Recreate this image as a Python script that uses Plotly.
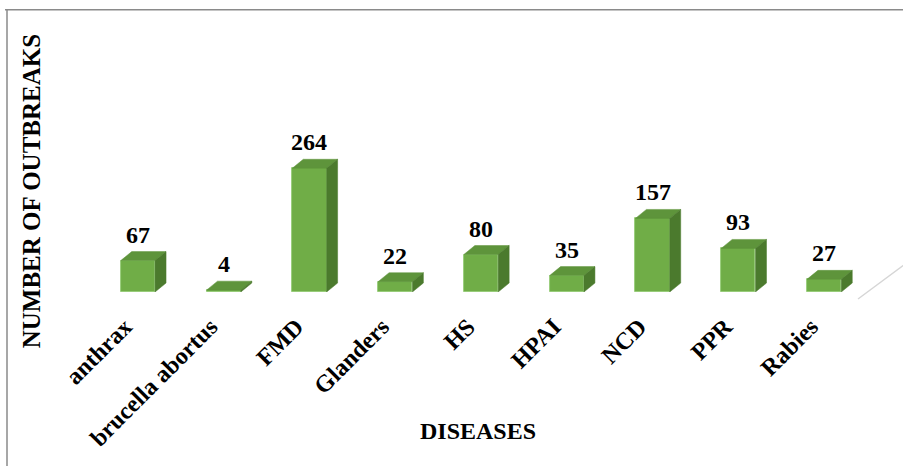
import plotly.graph_objects as go

# Outbreak counts per disease
diseases = ["anthrax", "brucella abortus", "FMD", "Glanders", "HS",
            "HPAI", "NCD", "PPR", "Rabies"]
outbreaks = [67, 4, 264, 22, 80, 35, 157, 93, 27]

# Layout / styling constants
W, H = 903, 466
M_L, M_R, M_B = 95, 36, 174
Y_MAX = 320
PX_PER_UNIT = 0.47
PLOT_H = Y_MAX * PX_PER_UNIT
M_T = H - M_B - PLOT_H
PLOT_W = W - M_L - M_R
PX_PER_CAT = PLOT_W / 9.0

BAR_W = 0.40                      # front face width (category units)
DEPTH_X = 11 / PX_PER_CAT         # 3D depth offset, x (category units)
DEPTH_Y = 9 / PX_PER_UNIT         # 3D depth offset, y (value units)

FRONT = "#70AD47"
TOP = "#5E943B"
SIDE = "#4B7A2D"
FONT = "Liberation Serif"

fig = go.Figure()

# Front faces
fig.add_trace(go.Bar(
    x=list(range(len(diseases))), y=outbreaks, width=BAR_W,
    marker=dict(color=FRONT, line=dict(color="#8CC66A", width=0.8)),
    hoverinfo="skip", showlegend=False,
))

# Top and side faces as filled polygons
for i, v in enumerate(outbreaks):
    x0, x1 = i - BAR_W / 2, i + BAR_W / 2
    fig.add_trace(go.Scatter(
        x=[x0, x1, x1 + DEPTH_X, x0 + DEPTH_X, x0],
        y=[v, v, v + DEPTH_Y, v + DEPTH_Y, v],
        fill="toself", fillcolor=TOP, mode="lines",
        line=dict(color=TOP, width=0.5),
        hoverinfo="skip", showlegend=False, cliponaxis=False,
    ))
    fig.add_trace(go.Scatter(
        x=[x1, x1 + DEPTH_X, x1 + DEPTH_X, x1, x1],
        y=[0, DEPTH_Y, v + DEPTH_Y, v, 0],
        fill="toself", fillcolor=SIDE, mode="lines",
        line=dict(color=SIDE, width=0.5),
        hoverinfo="skip", showlegend=False, cliponaxis=False,
    ))

# Value labels above each bar
for i, v in enumerate(outbreaks):
    fig.add_annotation(
        x=i, y=v + DEPTH_Y, text=str(v), showarrow=False,
        xref="x", yref="y", xanchor="center", yanchor="bottom", yshift=2,
        font=dict(family=FONT, size=24, color="black", weight="bold"),
    )

def px_to_paper_x(px):
    return (px - M_L) / PLOT_W

def px_to_paper_y(py):
    return (H - M_B - py) / PLOT_H

# Axis titles
fig.add_annotation(
    x=px_to_paper_x(478), y=px_to_paper_y(431), xref="paper", yref="paper",
    text="DISEASES", showarrow=False, xanchor="center", yanchor="middle",
    font=dict(family=FONT, size=24, color="black", weight="bold"),
)
fig.add_annotation(
    x=px_to_paper_x(31), y=px_to_paper_y(191), xref="paper", yref="paper",
    text="NUMBER OF OUTBREAKS", showarrow=False, textangle=-90,
    xanchor="center", yanchor="middle",
    font=dict(family=FONT, size=25, color="black", weight="bold"),
)

# Frame edges and floor edge
line_gray = dict(color="#8A8A8A", width=1.5)
fig.add_shape(type="line", xref="paper", yref="paper",
              x0=px_to_paper_x(5), x1=px_to_paper_x(W + 2),
              y0=px_to_paper_y(9), y1=px_to_paper_y(9), line=line_gray)
fig.add_shape(type="line", xref="paper", yref="paper",
              x0=px_to_paper_x(7), x1=px_to_paper_x(7),
              y0=px_to_paper_y(9), y1=px_to_paper_y(H + 2), line=line_gray)
fig.add_shape(type="line", xref="paper", yref="paper",
              x0=px_to_paper_x(858), x1=px_to_paper_x(905),
              y0=px_to_paper_y(299), y1=px_to_paper_y(264),
              line=dict(color="#D6D6D6", width=1.5))

fig.update_layout(
    width=W, height=H,
    margin=dict(l=M_L, r=M_R, t=M_T, b=M_B, autoexpand=False),
    paper_bgcolor="white", plot_bgcolor="white",
    bargap=0,
    xaxis=dict(
        range=[-0.5, 8.5], tickmode="array",
        tickvals=list(range(len(diseases))), ticktext=diseases,
        tickangle=-45, showgrid=False, zeroline=False, showline=False,
        ticks="", automargin=False,
        ticklabelstandoff=15, ticklabelshift=-13,
        tickfont=dict(family=FONT, size=24, color="black", weight="bold"),
    ),
    yaxis=dict(
        range=[0, Y_MAX], showgrid=False, zeroline=False, showline=False,
        showticklabels=False, ticks="", automargin=False,
    ),
)

fig.write_html("out.html")
